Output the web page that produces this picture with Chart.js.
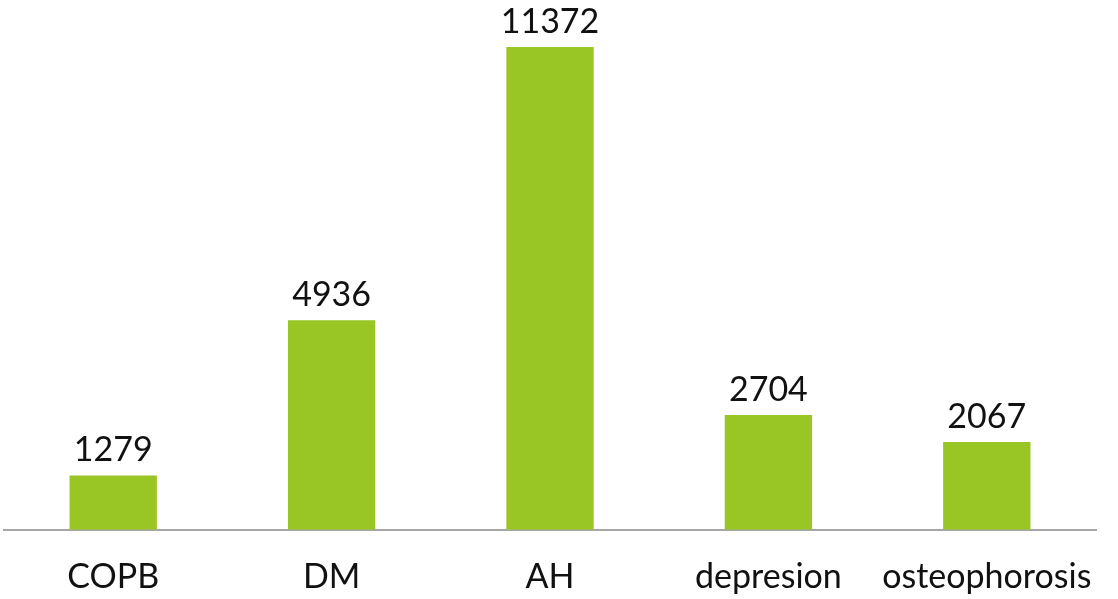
<!DOCTYPE html>
<html>

<head>
    <title>Bar chart</title>
    <script src="https://cdn.jsdelivr.net/npm/chart.js"></script>
    <style>
        body {
            margin: 0;
            background: #fff;
        }

        #chartContainer {
            width: 1118px;
            height: 599px;
        }
    </style>
</head>

<body>
    <div id="chartContainer">
        <canvas id="myChart"></canvas>
    </div>

    <script>
        // kategoriler ve değerler
        const categories = ['COPB', 'DM', 'AH', 'depresion', 'osteophorosis'];
        const patientCounts = [1279, 4936, 11372, 2704, 2067];

        // çubukların üstüne değer yazan eklenti
        const valueLabels = {
            id: 'valueLabels',
            afterDatasetsDraw(chart) {
                const ctx = chart.ctx;
                const meta = chart.getDatasetMeta(0);
                ctx.save();
                ctx.font = '34px Lato';
                ctx.fillStyle = '#111';
                ctx.textAlign = 'center';
                ctx.textBaseline = 'bottom';
                meta.data.forEach((bar, i) => {
                    ctx.fillText(String(patientCounts[i]), bar.x, bar.y - 8);
                });
                ctx.restore();
            }
        };

        const ctx = document.getElementById('myChart').getContext('2d');
        const myChart = new Chart(ctx, {
            type: 'bar',
            data: {
                labels: categories,
                datasets: [{
                    data: patientCounts,
                    backgroundColor: '#99c624',
                    borderWidth: 0,
                    categoryPercentage: 1,
                    barPercentage: 0.4
                }]
            },
            options: {
                responsive: true,
                maintainAspectRatio: false,
                animation: false,
                layout: {
                    padding: { left: 4, right: 22, top: 0, bottom: -17.5 }
                },
                plugins: {
                    legend: { display: false },
                    tooltip: { enabled: false }
                },
                scales: {
                    x: {
                        grid: { display: false },
                        border: { color: '#a6a6a6', width: 2 },
                        ticks: {
                            color: '#111',
                            font: { family: 'Lato', size: 34 },
                            padding: 19,
                            maxRotation: 0,
                            autoSkip: false
                        }
                    },
                    y: {
                        display: false,
                        min: 0,
                        max: 12480
                    }
                }
            },
            plugins: [valueLabels]
        });
    </script>
</body>

</html>
